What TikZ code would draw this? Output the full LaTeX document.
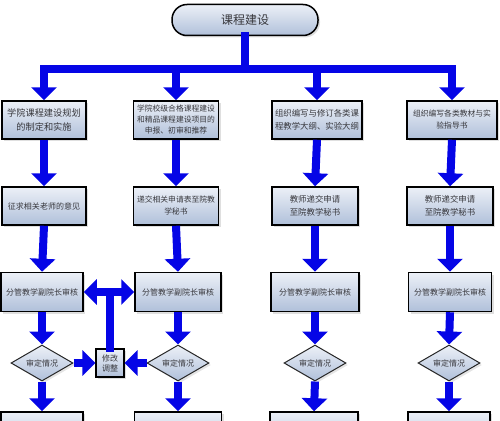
\documentclass[tikz,border=0pt]{standalone}
\usepackage{fontspec}
\setmainfont{Noto Sans CJK SC}
\usetikzlibrary{arrows.meta,shapes.geometric,shadows}
\definecolor{flowblue}{RGB}{5, 5, 230}
\definecolor{boxtop}{RGB}{236, 240, 247}
\definecolor{boxbottom}{RGB}{176, 192, 218}
\definecolor{inkgray}{RGB}{55, 55, 60}

\begin{document}
\begin{tikzpicture}[x=1pt, y=-1pt,
        box/.style={draw=black, line width=1.5pt, top color=boxtop, bottom color=boxbottom,
                    drop shadow={shadow xshift=2pt, shadow yshift=-2pt, fill=black!25},
                    minimum height=38pt, align=center, inner sep=1pt, text=inkgray,
                    font=\fontsize{8}{11}\selectfont},
        title/.style={box, rounded corners=15pt, minimum width=146pt, minimum height=31pt,
                    font=\fontsize{12}{14}\selectfont},
        check/.style={diamond, draw=black!85, line width=1pt, top color=boxtop, bottom color=boxbottom,
                    drop shadow={shadow xshift=2pt, shadow yshift=-2pt, fill=black!20},
                    minimum width=62pt, minimum height=36pt, inner sep=0pt, aspect=1.7,
                    text=inkgray, font=\fontsize{8}{10}\selectfont},
        flow/.style={flowblue, line width=8pt, line cap=rect},
        arr/.style={flowblue, line width=8pt, -{Triangle[width=25pt, length=13pt]}},
        arrs/.style={flowblue, line width=8pt, {Triangle[width=25pt, length=13pt]}-{Triangle[width=25pt, length=13pt]}},
    ]
    \useasboundingbox (0,0) rectangle (500,420);
    \clip (0,0) rectangle (500,420);
    % Title
    \node[title] (course) at (245, 20) {课程建设};
    % First row
    \node[box, minimum width=84pt, font=\fontsize{9.2}{14}\selectfont] (plan)    at ( 44, 120) {学院课程建设规划\\的制定和实施};
    \node[box, minimum width=85pt, font=\fontsize{7.8}{11}\selectfont] (apply)  at (176, 120) {学院校级合格课程建设\\和精品课程建设项目的\\申报、初审和推荐};
    \node[box, minimum width=90pt, font=\fontsize{8.4}{13}\selectfont] (outline) at (317, 120) {组织编写与修订各类课\\程教学大纲、实验大纲};
    \node[box, minimum width=90pt, font=\fontsize{7.8}{12}\selectfont] (books)  at (452, 120) {组织编写各类教材与实\\验指导书};
    % Second row
    \node[box, minimum width=84pt]                                      (opinion) at ( 44, 206) {征求相关老师的意见};
    \node[box, minimum width=85pt, font=\fontsize{7.8}{12}\selectfont] (submitb) at (176, 206) {递交相关申请表至院教\\学秘书};
    \node[box, minimum width=86pt, font=\fontsize{8.4}{13}\selectfont] (submitc) at (315, 206) {教师递交申请\\至院教学秘书};
    \node[box, minimum width=86pt, font=\fontsize{8.4}{13}\selectfont] (submitd) at (450, 206) {教师递交申请\\至院教学秘书};
    % Third row
    \node[box, minimum width=82pt, minimum height=39pt] (reviewa) at ( 42, 292) {分管教学副院长审核};
    \node[box, minimum width=86pt, minimum height=39pt] (reviewb) at (178, 292) {分管教学副院长审核};
    \node[box, minimum width=88pt, minimum height=39pt] (reviewc) at (315, 292) {分管教学副院长审核};
    \node[box, minimum width=83pt, minimum height=39pt] (reviewd) at (450, 292) {分管教学副院长审核};
    % Checks
    \node[check] (checka) at ( 42, 363) {审定情况};
    \node[check] (checkb) at (178, 363) {审定情况};
    \node[check] (checkc) at (315, 363) {审定情况};
    \node[check] (checkd) at (449, 363) {审定情况};
    \node[box, line width=1.2pt, minimum width=28pt, minimum height=28pt,
          font=\fontsize{8}{10}\selectfont] (fix) at (110, 363) {修改\\调整};
    % Last row (cut off)
    \node[box, minimum width=82pt] (resulta) at ( 42, 431) {};
    \node[box, minimum width=87pt] (resultb) at (178, 431) {};
    \node[box, minimum width=88pt] (resultc) at (314, 431) {};
    \node[box, minimum width=82pt] (resultd) at (449, 431) {};
    % Bus from the title
    \coordinate (bus) at (245, 69);
    \draw[flow] (course.south) -- (bus);
    \draw[flow] (plan.north |- bus) -- (books.north |- bus);
    \foreach \n in {plan, apply, outline, books}
        \draw[arr] (\n.north |- bus) -- (\n.north);
    % Columns
    \foreach \a/\b in {plan/opinion, apply/submitb, outline/submitc, books/submitd,
                       opinion/reviewa, submitb/reviewb, submitc/reviewc, submitd/reviewd,
                       reviewa/checka, reviewb/checkb, reviewc/checkc, reviewd/checkd,
                       checka/resulta, checkb/resultb, checkc/resultc, checkd/resultd}
        \draw[arr] (\a.south) -- (\b.north);
    % Back loop
    \draw[arr] (checka.east) -- (fix.west);
    \draw[arr] (checkb.west) -- (fix.east);
    \draw[flow] (fix.north) -- (fix.north |- reviewa.east);
    \draw[arrs] (reviewa.east) -- (reviewb.west);
\end{tikzpicture}
\end{document}
